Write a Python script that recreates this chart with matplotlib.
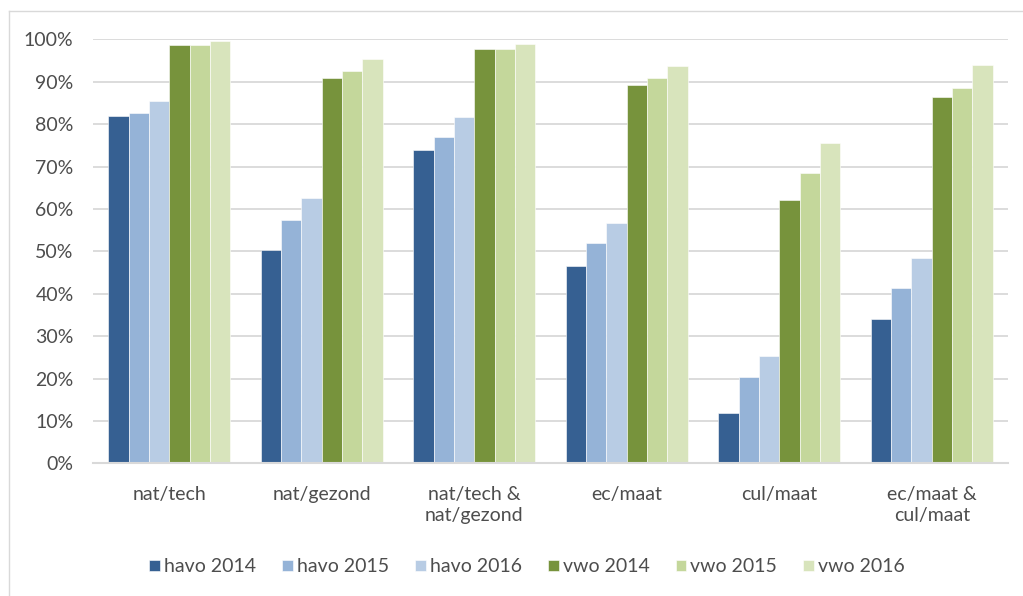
import matplotlib.pyplot as plt
import numpy as np
from matplotlib.lines import Line2D
from matplotlib.ticker import FuncFormatter

plt.rcParams["font.family"] = ["Lato", "DejaVu Sans"]

categories = [
    "nat/tech",
    "nat/gezond",
    "nat/tech &\nnat/gezond",
    "ec/maat",
    "cul/maat",
    "ec/maat &\ncul/maat",
]
series_names = ["havo 2014", "havo 2015", "havo 2016", "vwo 2014", "vwo 2015", "vwo 2016"]

havo_2014 = [82.0, 50.3, 73.8, 46.5, 11.9, 34.1]
havo_2015 = [82.7, 57.3, 76.9, 52.0, 20.4, 41.3]
havo_2016 = [85.5, 62.6, 81.7, 56.7, 25.2, 48.5]
vwo_2014 = [98.7, 90.9, 97.8, 89.3, 62.0, 86.4]
vwo_2015 = [98.6, 92.5, 97.6, 90.9, 68.5, 88.4]
vwo_2016 = [99.5, 95.4, 98.9, 93.8, 75.5, 94.0]

colors = ["#366092", "#95B3D7", "#B8CCE4", "#77933C", "#C4D79B", "#D8E4BC"]
text_color = "#4d4d4d"
grid_color = "#d9d9d9"

W, H = 1023, 596
fig = plt.figure(figsize=(W / 100, H / 100), dpi=100)

# outer chart frame: only the left and top edges are in view
fx, fy = 8.5 / W, 1 - 10.5 / H
fig.lines.append(Line2D([fx, fx], [0, fy], transform=fig.transFigure,
                        color=grid_color, linewidth=1.0))
fig.lines.append(Line2D([fx, 1], [fy, fy], transform=fig.transFigure,
                        color=grid_color, linewidth=1.0))

ax = fig.add_axes([93 / W, (H - 463.3) / H, (1008 - 93) / W, (463.3 - 39.3) / H])

series = [havo_2014, havo_2015, havo_2016, vwo_2014, vwo_2015, vwo_2016]
x = np.arange(len(categories))
bar_w = 0.133
for i, (vals, name, c) in enumerate(zip(series, series_names, colors)):
    offs = (i - 2.5) * bar_w
    ax.bar(x + offs, vals, width=bar_w, color=c, edgecolor="white",
           linewidth=0.4, label=name, zorder=3)

ax.set_xlim(-0.5, len(categories) - 0.5)
ax.set_ylim(0, 100)
ax.set_yticks(np.arange(0, 101, 10))
ax.yaxis.set_major_formatter(FuncFormatter(lambda v, p: f"{v:.0f}%"))
ax.set_xticks(x)
ax.set_xticklabels(categories, linespacing=1.3)

ax.grid(axis="y", color=grid_color, linewidth=1.3, zorder=0)
for s in ["top", "right", "left"]:
    ax.spines[s].set_visible(False)
ax.spines["bottom"].set_color(grid_color)
ax.spines["bottom"].set_linewidth(1.5)
ax.spines["bottom"].set_zorder(4)

ax.tick_params(axis="both", length=0, colors=text_color, labelsize=14)
ax.tick_params(axis="y", pad=14)
ax.tick_params(axis="x", pad=16)

fig.legend(
    loc="center",
    bbox_to_anchor=(527 / W, 1 - 567 / H),
    ncol=6,
    frameon=False,
    fontsize=14,
    handlelength=0.55,
    handleheight=0.55,
    handletextpad=0.2,
    columnspacing=1.35,
    labelcolor=text_color,
)

fig.savefig("out.png", dpi=100)
